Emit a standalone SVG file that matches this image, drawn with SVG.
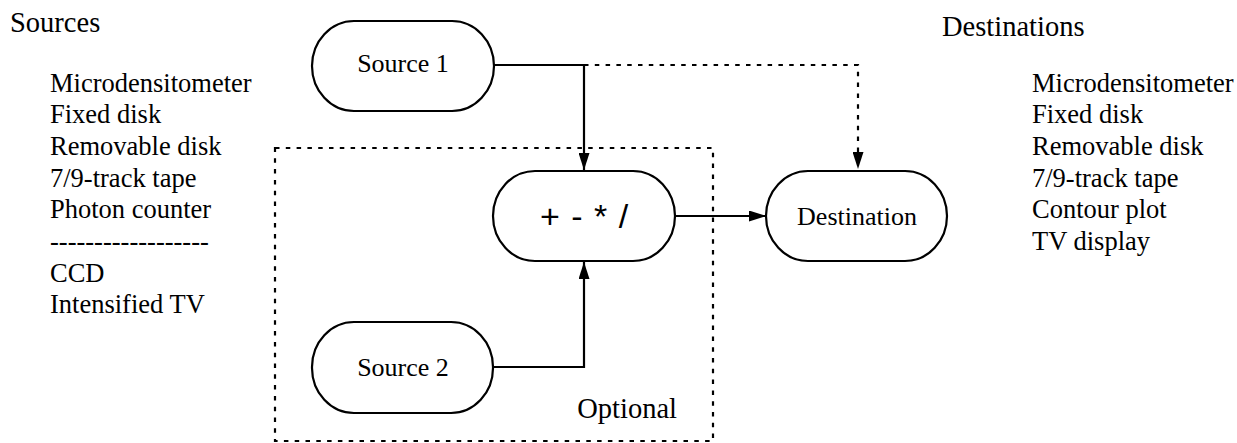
<svg xmlns="http://www.w3.org/2000/svg" width="1237" height="443" viewBox="0 0 1237 443">
  <style>
    text { font-family: 'Liberation Serif', 'Times New Roman', Times, serif; font-size: 26px; fill: #000; }
    .head { font-size: 28.5px; }
    .item { font-size: 26.5px; }
    .ctr { text-anchor: middle; }
    .op { font-family: 'Liberation Sans', Arial, Helvetica, sans-serif; font-size: 34px; text-anchor: middle; }
    .node { fill: #fff; stroke: #000; stroke-width: 2.2; }
    .line { fill: none; stroke: #000; stroke-width: 2.2; }
    .dotted { fill: none; stroke: #000; stroke-width: 2.2; stroke-dasharray: 4.5 6.3; }
  </style>
  <defs>
    <marker id="arrow" markerWidth="18" markerHeight="11" refX="17" refY="5.5" orient="auto" markerUnits="userSpaceOnUse">
      <path d="M0,0 L17,5.5 L0,11 Z" fill="#000"/>
    </marker>
  </defs>

  <rect width="1237" height="443" fill="#fff"/>

  <!-- optional region -->
  <g id="optional">
    <rect class="dotted" x="275" y="148" width="438" height="293"/>
    <text class="head" x="677" y="418" text-anchor="end">Optional</text>
  </g>

  <!-- source list -->
  <g id="sources">
    <text class="head" x="10" y="32">Sources</text>
    <text class="item" x="50" y="92">Microdensitometer</text>
    <text class="item" x="50" y="123">Fixed disk</text>
    <text class="item" x="50" y="155">Removable disk</text>
    <text class="item" x="50" y="187">7/9-track tape</text>
    <text class="item" x="50" y="218">Photon counter</text>
    <text class="item" x="50" y="250">------------------</text>
    <text class="item" x="50" y="282">CCD</text>
    <text class="item" x="50" y="313">Intensified TV</text>
  </g>

  <!-- destination list -->
  <g id="destinations">
    <text class="head" x="942" y="36">Destinations</text>
    <text class="item" x="1032" y="92">Microdensitometer</text>
    <text class="item" x="1032" y="123">Fixed disk</text>
    <text class="item" x="1032" y="155">Removable disk</text>
    <text class="item" x="1032" y="187">7/9-track tape</text>
    <text class="item" x="1032" y="218">Contour plot</text>
    <text class="item" x="1032" y="250">TV display</text>
  </g>

  <!-- connectors -->
  <g id="connectors">
    <path class="line" d="M494,65 H584 V170" marker-end="url(#arrow)"/>
    <path class="dotted" d="M584,65 H858 V169" marker-end="url(#arrow)"/>
    <path class="line" d="M493,367 H584 V262" marker-end="url(#arrow)"/>
    <path class="line" d="M675,216 H766" marker-end="url(#arrow)"/>
  </g>

  <g id="source1">
    <rect class="node" x="312" y="21" width="182" height="90" rx="42" ry="45"/>
    <text class="ctr" x="403" y="72">Source 1</text>
  </g>

  <g id="operator">
    <rect class="node" x="493" y="171" width="182" height="90" rx="42" ry="45"/>
    <text class="op" x="584" y="228" word-spacing="2">+ - * /</text>
  </g>

  <g id="source2">
    <rect class="node" x="312" y="322" width="181" height="91" rx="42" ry="45"/>
    <text class="ctr" x="403" y="376">Source 2</text>
  </g>

  <g id="destination">
    <rect class="node" x="766" y="171" width="181" height="90" rx="42" ry="45"/>
    <text class="ctr" x="857" y="225">Destination</text>
  </g>
</svg>
